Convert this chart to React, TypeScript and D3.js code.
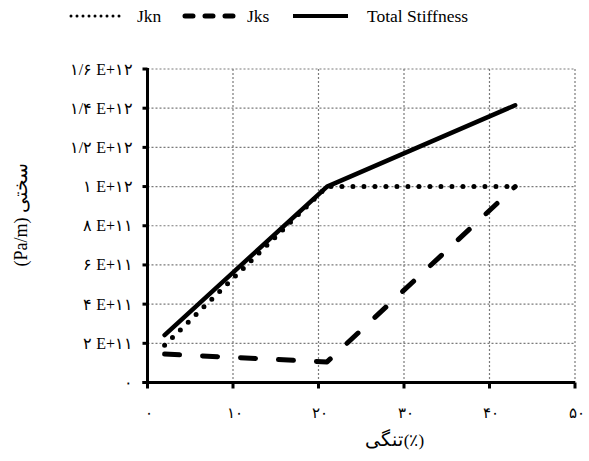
import React from "react";
import * as d3 from "d3";

const xTicks = [0, 10, 20, 30, 40, 50];
const xTickLabels = ["۰", "۱۰", "۲۰", "۳۰", "۴۰", "۵۰"];
const yTicks = [0, 0.2e12, 0.4e12, 0.6e12, 0.8e12, 1.0e12, 1.2e12, 1.4e12, 1.6e12];
const yTickLabels = ["۰", "۲ E+۱۱", "۴ E+۱۱", "۶ E+۱۱", "۸ E+۱۱", "۱ E+۱۲", "۱/۲ E+۱۲", "۱/۴ E+۱۲", "۱/۶ E+۱۲"];

const strain = [2, 21, 43];
const jkn = [0.19e12, 1.0e12, 1.0e12];
const jks = [0.145e12, 0.105e12, 1.0e12];
const total = [0.242e12, 1.0e12, 1.415e12];

const seriesNames = ["Jkn", "Jks", "Total Stiffness"];
const xTitleWord = "تنگی";
const xTitleUnit = "(٪)";
const yTitleWord = "سختی";
const yTitleUnit = "(Pa/m)";

const W = 589;
const H = 461;
const FONT = "'Liberation Serif', 'DejaVu Serif', 'Times New Roman', serif";

export default function App() {
  const x = d3.scaleLinear().domain([0, 50]).range([147.5, 575]);
  const y = d3.scaleLinear().domain([0, 1.6e12]).range([382.5, 69]);
  const line = d3
    .line<[number, number]>()
    .x((d) => x(d[0]))
    .y((d) => y(d[1]));
  const pts = (vals: number[]) => strain.map((s, i) => [s, vals[i]] as [number, number]);

  const styles = [
    { strokeWidth: 5, dash: "0 11", cap: "round" },
    { strokeWidth: 5, dash: "15 23", cap: "round" },
    { strokeWidth: 4.5, dash: undefined, cap: "round" },
  ];
  const legendStyles = [
    { strokeWidth: 3, dash: "0 6", cap: "round" },
    { strokeWidth: 5, dash: "8 12", cap: "round" },
    { strokeWidth: 4, dash: undefined, cap: "butt" },
  ];
  const legendX = [
    { x1: 71, x2: 121, tx: 137 },
    { x1: 185, x2: 233, tx: 247 },
    { x1: 293, x2: 348, tx: 367 },
  ];
  const data = [jkn, jks, total];
  const txt: React.CSSProperties = { fontFamily: FONT };
  const ltrOverride: React.CSSProperties = { fontFamily: FONT, direction: "ltr", unicodeBidi: "bidi-override" };

  return (
    <svg
      width={W}
      height={H}
      style={{ position: "absolute", left: 0, top: 0, background: "#fff", fontFamily: FONT }}
    >
      <rect width={W} height={H} fill="#fff" />
      {xTicks.slice(1).map((t) => (
        <line key={"gx" + t} x1={x(t)} x2={x(t)} y1={y(1.6e12)} y2={y(0)} stroke="#7a7a7a" strokeWidth={1.2} strokeDasharray="2 2" />
      ))}
      {yTicks.slice(1).map((t) => (
        <line key={"gy" + t} x1={x(0)} x2={x(50)} y1={y(t)} y2={y(t)} stroke="#7a7a7a" strokeWidth={1.2} strokeDasharray="2 2" />
      ))}
      <line x1={x(0)} x2={x(0)} y1={y(1.6e12) - 1} y2={y(0) + 5} stroke="#000" strokeWidth={3} />
      <line x1={x(0) - 5} x2={x(50)} y1={y(0)} y2={y(0)} stroke="#000" strokeWidth={3} />
      {yTicks.map((t) => (
        <line key={"ty" + t} x1={x(0) - 5} x2={x(0)} y1={y(t)} y2={y(t)} stroke="#000" strokeWidth={3} />
      ))}
      {xTicks.map((t) => (
        <line key={"tx" + t} x1={x(t)} x2={x(t)} y1={y(0)} y2={y(0) + 6} stroke="#000" strokeWidth={3} />
      ))}
      {yTicks.map((t, i) => (
        <text key={"ly" + t} x={133} y={y(t) + 5.5} textAnchor="end" fontSize={16} style={txt}>
          {"\u200E" + yTickLabels[i]}
        </text>
      ))}
      {xTicks.map((t, i) => (
        <text key={"lx" + t} x={x(t) + 1.5} y={418} textAnchor="middle" fontSize={15} style={txt}>
          {xTickLabels[i]}
        </text>
      ))}
      <text x={384} y={446} textAnchor="middle" fontSize={19} style={txt}>
        {xTitleWord}
      </text>
      <text x={414} y={446} textAnchor="middle" fontSize={17} style={ltrOverride}>
        {xTitleUnit}
      </text>
      <g transform={`translate(27, 223) rotate(-90)`}>
        <text x={35} y={0} textAnchor="middle" fontSize={19} style={txt}>
          {yTitleWord}
        </text>
        <text x={-19} y={0} textAnchor="middle" fontSize={18} style={txt}>
          {yTitleUnit}
        </text>
      </g>
      {data.map((vals, i) => (
        <path key={"s" + i} d={line(pts(vals)) || ""} fill="none" stroke="#000" strokeWidth={styles[i].strokeWidth} strokeDasharray={styles[i].dash} strokeLinecap={styles[i].cap as any} strokeLinejoin="round" />
      ))}
      {seriesNames.map((n, i) => (
        <g key={"lg" + i}>
          <line x1={legendX[i].x1} x2={legendX[i].x2} y1={16} y2={16} stroke="#000" strokeWidth={legendStyles[i].strokeWidth} strokeDasharray={legendStyles[i].dash} strokeLinecap={legendStyles[i].cap as any} />
          <text x={legendX[i].tx} y={22} fontSize={17.5} style={txt}>
            {n}
          </text>
        </g>
      ))}
    </svg>
  );
}
